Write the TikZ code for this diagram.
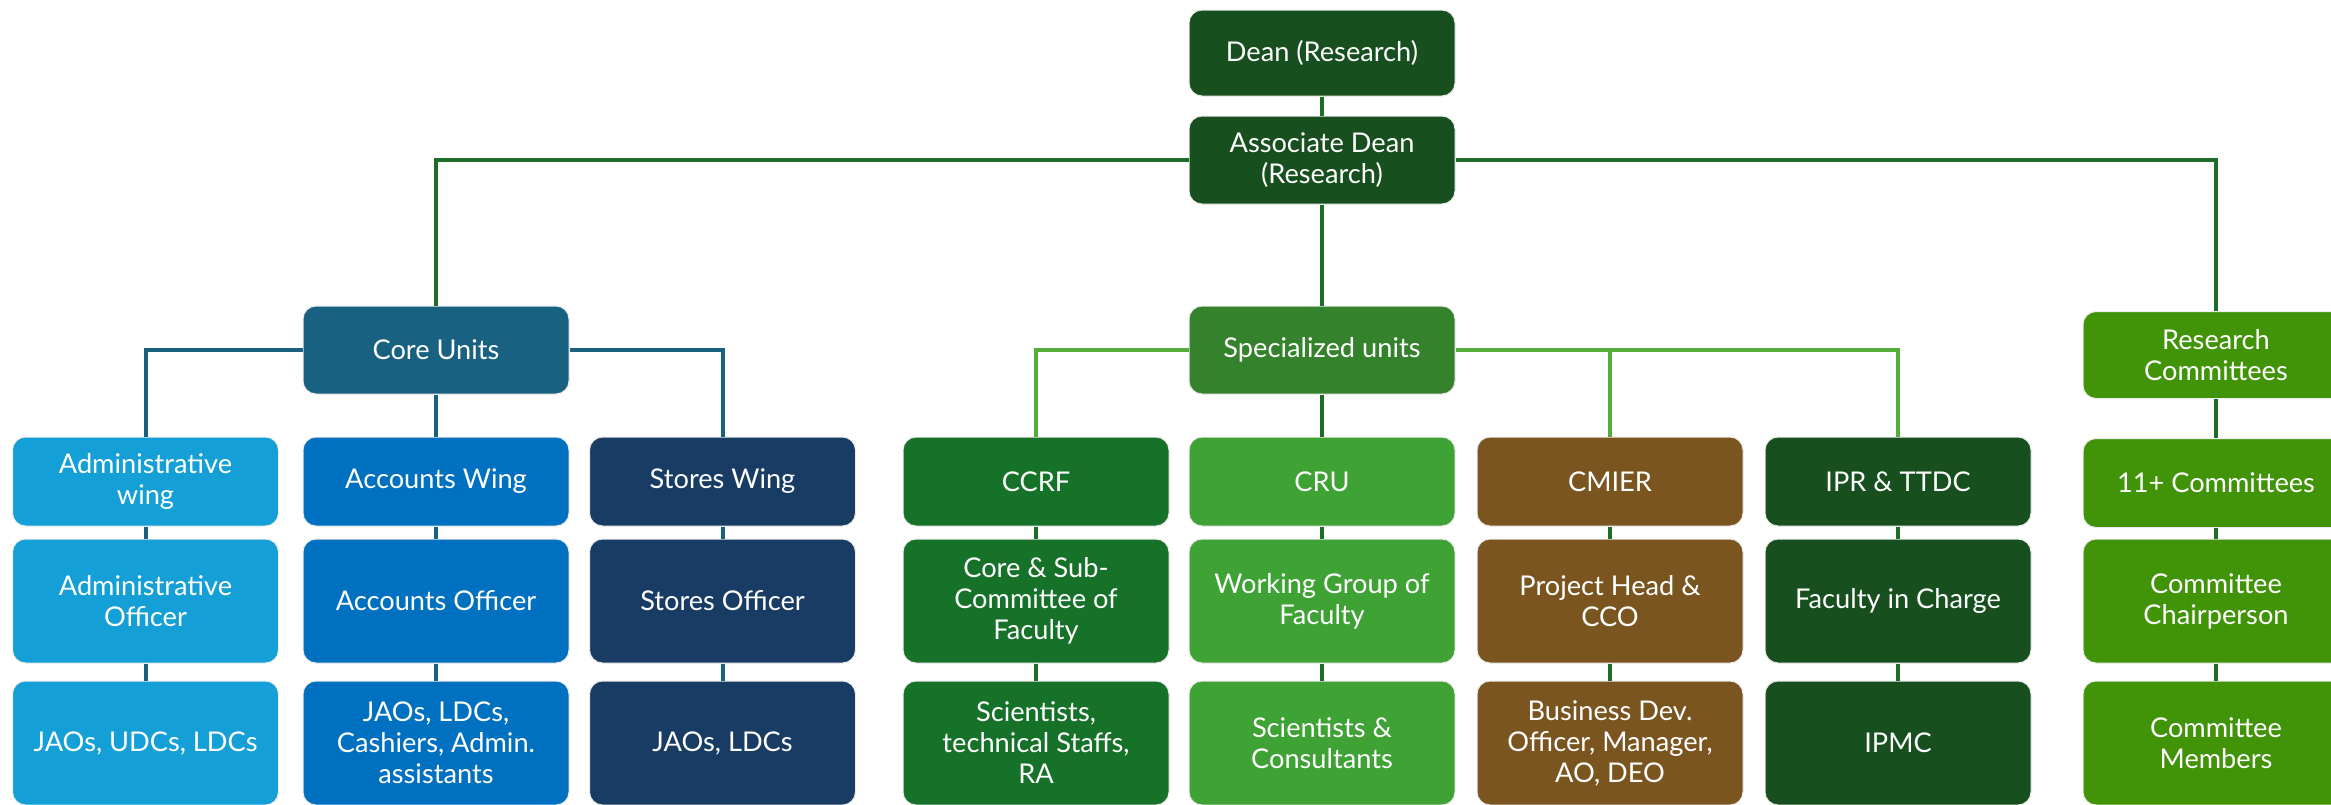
\documentclass[tikz,border=0pt]{standalone}
\usepackage{fontspec}
\setmainfont{Lato}
\definecolor{deanG}{RGB}{23,80,30}
\definecolor{lineG}{RGB}{30,108,40}
\definecolor{coreB}{RGB}{24,97,129}
\definecolor{adminB}{RGB}{20,160,214}
\definecolor{acctB}{RGB}{0,112,192}
\definecolor{storeB}{RGB}{24,60,100}
\definecolor{specG}{RGB}{53,130,44}
\definecolor{ccrfG}{RGB}{23,114,41}
\definecolor{cruG}{RGB}{62,162,53}
\definecolor{cmierBr}{RGB}{123,85,32}
\definecolor{iprG}{RGB}{23,80,30}
\definecolor{rcG}{RGB}{65,147,8}
\definecolor{lightG}{RGB}{86,174,58}
\begin{document}
\begin{tikzpicture}[x=0.5pt,y=-0.5pt,
  box/.style={rounded corners=6.5pt, draw=white!85!gray, line width=0.5pt, text=white,
    align=center, minimum width=133pt, inner sep=0pt,
    font=\fontsize{13.6pt}{15.5pt}\selectfont},
  hA/.style={minimum height=44pt},
  hB/.style={minimum height=44.5pt},
  hC/.style={minimum height=62pt},
  conn/.style={line width=2pt},
  lg/.style={conn, draw=lineG},
  cb/.style={conn, draw=coreB},
  lgl/.style={conn, draw=lightG}]
\useasboundingbox (0,0) rectangle (2331,804);
\fill[white] (0,0) rectangle (2331,804);
\clip (0,0) rectangle (2331,804);

% top
\node[box,hA,fill=deanG,minimum height=43pt] (dean) at (1322,53) {Dean (Research)};
\node[box,hA,fill=deanG] (assoc) at (1322,160) {Associate Dean\\(Research)};

% level 2
\node[box,hA,fill=coreB] (core) at (436,350) {Core Units};
\node[box,hA,fill=specG] (spec) at (1322,350) {Specialized units};
\node[box,hA,fill=rcG,minimum height=43.5pt] (rc) at (2216,355) {Research\\Committees};

% row B
\node[box,hB,fill=adminB] (adm) at (145.5,481.5) {Administrative\\wing};
\node[box,hB,fill=acctB] (acc) at (436,481.5) {Accounts Wing};
\node[box,hB,fill=storeB] (sto) at (722.5,481.5) {Stores Wing};
\node[box,hB,fill=ccrfG] (ccrf) at (1036,481.5) {CCRF};
\node[box,hB,fill=cruG] (cru) at (1322,481.5) {CRU};
\node[box,hB,fill=cmierBr] (cmier) at (1610,481.5) {CMIER};
\node[box,hB,fill=iprG] (ipr) at (1898,481.5) {IPR \& TTDC};
\node[box,hB,fill=rcG] (com) at (2216,483) {11+ Committees};

% row C
\node[box,hC,fill=adminB] (admo) at (145.5,601) {Administrative\\Officer};
\node[box,hC,fill=acctB] (acco) at (436,601) {Accounts Officer};
\node[box,hC,fill=storeB] (stoo) at (722.5,601) {Stores Officer};
\node[box,hC,fill=ccrfG] (ccrfc) at (1036,601) {Core \& Sub-\\Committee of\\Faculty};
\node[box,hC,fill=cruG] (cruw) at (1322,601) {Working Group of\\Faculty};
\node[box,hC,fill=cmierBr] (cmierp) at (1610,601) {Project Head \&\\CCO};
\node[box,hC,fill=iprG] (iprf) at (1898,601) {Faculty in Charge};
\node[box,hC,fill=rcG] (chair) at (2216,601) {Committee\\Chairperson};

% row D
\node[box,hC,fill=adminB] (admj) at (145.5,743) {JAOs, UDCs, LDCs};
\node[box,hC,fill=acctB] (accj) at (436,743) {JAOs, LDCs,\\Cashiers, Admin.\\assistants};
\node[box,hC,fill=storeB] (stoj) at (722.5,743) {JAOs, LDCs};
\node[box,hC,fill=ccrfG] (ccrfs) at (1036,743) {Scientists,\\technical Staffs,\\RA};
\node[box,hC,fill=cruG] (crus) at (1322,743) {Scientists \&\\Consultants};
\node[box,hC,fill=cmierBr] (cmierb) at (1610,743) {Business Dev.\\Officer, Manager,\\AO, DEO};
\node[box,hC,fill=iprG] (iprm) at (1898,743) {IPMC};
\node[box,hC,fill=rcG] (mem) at (2216,743) {Committee\\Members};

% connectors: top
\draw[lg] (dean) -- (assoc);
\draw[lg] (assoc.west) -| (core.north);
\draw[lg] (assoc.east) -| (rc.north);
\draw[lg] (assoc) -- (spec);

% core units
\draw[cb] (core.west) -| (adm.north);
\draw[cb] (core.east) -| (sto.north);
\draw[cb] (core) -- (acc);
\draw[cb] (adm) -- (admo);
\draw[cb] (admo) -- (admj);
\draw[cb] (acc) -- (acco);
\draw[cb] (acco) -- (accj);
\draw[cb] (sto) -- (stoo);
\draw[cb] (stoo) -- (stoj);

% specialized
\draw[lgl] (spec.west) -| (ccrf.north);
\draw[lgl] (spec.east) -| (cmier.north);
\draw[lgl] (spec.east) -| (ipr.north);
\draw[lg] (spec) -- (cru);
\draw[lg] (ccrf) -- (ccrfc);
\draw[lg] (ccrfc) -- (ccrfs);
\draw[lg] (cru) -- (cruw);
\draw[lg] (cruw) -- (crus);
\draw[lg] (cmier) -- (cmierp);
\draw[lg] (cmierp) -- (cmierb);
\draw[lg] (ipr) -- (iprf);
\draw[lg] (iprf) -- (iprm);

% committees
\draw[lg] (rc) -- (com);
\draw[lg] (com) -- (chair);
\draw[lg] (chair) -- (mem);
\end{tikzpicture}
\end{document}
